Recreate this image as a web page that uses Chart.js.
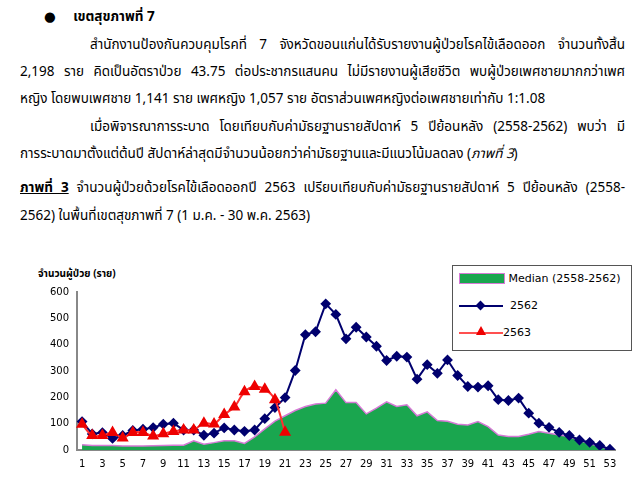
<!DOCTYPE html>
<html><head><meta charset="utf-8">
<script src="https://cdn.jsdelivr.net/npm/chart.js@4"></script>
<style>
body{margin:0;width:640px;height:480px;background:#fff;position:relative;overflow:hidden;font-family:"Noto Sans Thai","Tahoma","DejaVu Sans",sans-serif;color:#000}
.l{position:absolute;font-size:13.5px;white-space:nowrap;line-height:18px}
.j{text-align:justify;text-align-last:justify;white-space:normal}
#c{position:absolute;left:0;top:255px;width:640px;height:218px}
#leg{position:absolute;left:452px;top:265px;width:178px;height:84px;border:1px solid #555;background:#fff;font-size:11px;font-family:Verdana,"DejaVu Sans",sans-serif}
.li{position:absolute;left:6px;display:flex;align-items:center}
</style></head><body>
<div class="l" style="left:44px;top:8px;font-weight:bold">●&nbsp;&nbsp;&nbsp;&nbsp;&nbsp;เขตสุขภาพที่ 7</div>
<div class="l j" style="left:90px;top:36px;width:535px">สำนักงานป้องกันควบคุมโรคที่ 7  จังหวัดขอนแก่นได้รับรายงานผู้ป่วยโรคไข้เลือดออก จำนวนทั้งสิ้น</div>
<div class="l j" style="left:20px;top:63px;width:605px">2,198 ราย คิดเป็นอัตราป่วย 43.75 ต่อประชากรแสนคน ไม่มีรายงานผู้เสียชีวิต พบผู้ป่วยเพศชายมากกว่าเพศ</div>
<div class="l" style="left:20px;top:90px">หญิง โดยพบเพศชาย 1,141 ราย เพศหญิง 1,057 ราย อัตราส่วนเพศหญิงต่อเพศชายเท่ากับ 1:1.08</div>
<div class="l j" style="left:90px;top:118px;width:535px">เมื่อพิจารณาการระบาด โดยเทียบกับค่ามัธยฐานรายสัปดาห์ 5 ปีย้อนหลัง (2558-2562) พบว่า มี</div>
<div class="l" style="left:20px;top:145px">การระบาดมาตั้งแต่ต้นปี สัปดาห์ล่าสุดมีจำนวนน้อยกว่าค่ามัธยฐานและมีแนวโน้มลดลง (<i>ภาพที่ 3</i>)</div>
<div class="l j" style="left:20px;top:179px;width:605px"><b><u>ภาพที่ 3</u></b> จำนวนผู้ป่วยด้วยโรคไข้เลือดออกปี 2563 เปรียบเทียบกับค่ามัธยฐานรายสัปดาห์ 5 ปีย้อนหลัง (2558-</div>
<div class="l" style="left:20px;top:207px">2562) ในพื้นที่เขตสุขภาพที่ 7 (1 ม.ค. - 30 พ.ค. 2563)</div>
<div class="l" style="left:38px;top:265px;font-size:10px;font-weight:bold">จำนวนผู้ป่วย (ราย)</div>
<canvas id="c" width="640" height="218"></canvas>
<div id="leg">
 <div class="li" style="top:6px"><span style="display:inline-block;width:44px;height:9px;background:#1aa64f;border:1px solid #d67ad6"></span>&nbsp;Median (2558-2562)</div>
 <div class="li" style="top:33px"><span style="position:relative;display:inline-block;width:44px;height:2px;background:#00006e"><span style="position:absolute;left:18px;top:-3px;width:7px;height:7px;background:#00006e;transform:rotate(45deg)"></span></span>&nbsp;&nbsp;2562</div>
 <div class="li" style="top:60px"><span style="position:relative;display:inline-block;width:44px;height:2px;background:#ff5050"><span style="position:absolute;left:17px;top:-6px;width:0;height:0;border-left:5px solid transparent;border-right:5px solid transparent;border-bottom:9px solid #e00"></span></span>2563</div>
</div>
<script>
const weeks = Array.from({length:53},(_,i)=>String(i+1));
const median = [20,17,17,17,15,15,15,16,17,18,18,35,22,28,35,35,25,50,80,110,130,150,165,175,178,229,180,180,137,159,183,165,172,130,145,112,109,98,95,108,89,57,51,51,60,70,64,57,51,36,25,13,3];
const y2562 = [108,61,66,44,55,74,79,85,98,102,76,76,56,64,84,76,71,76,119,161,199,302,438,449,555,515,422,466,429,394,340,356,353,269,324,291,342,283,241,239,244,191,188,197,140,102,86,67,55,38,29,17,3];
const y2563 = [98,55,55,66,46,66,66,53,62,70,76,76,102,99,135,163,221,241,231,191,67];
const yTicks = [0,100,200,300,400,500,600];
new Chart(document.getElementById('c'),{
 data:{labels:weeks,datasets:[
  {type:'line',label:'2563',data:y2563,borderColor:'#ff3030',borderWidth:2,pointStyle:'triangle',pointRadius:5,pointBackgroundColor:'#ee0000',pointBorderColor:'#ee0000',tension:0.3,order:1},
  {type:'line',label:'2562',data:y2562,borderColor:'#00006e',borderWidth:2,pointStyle:'rectRot',pointRadius:4,pointBackgroundColor:'#00006e',pointBorderColor:'#00006e',tension:0,order:2},
  {type:'line',label:'Median (2558-2562)',data:median,fill:'origin',backgroundColor:'#1aa64f',borderColor:'#d67ad6',borderWidth:1.5,pointRadius:0,tension:0,order:3}
 ]},
 options:{responsive:false,animation:false,
  layout:{padding:{left:0,right:25,top:37,bottom:0}},
  plugins:{legend:{display:false},tooltip:{enabled:false}},
  scales:{
   x:{offset:true,grid:{display:false,drawTicks:true,tickLength:5,color:'#444'},border:{color:'#888',width:2},
      ticks:{autoSkip:false,maxRotation:0,color:'#000',font:{size:10,family:'Verdana, DejaVu Sans'},callback:(v,i)=> i%2===0?weeks[i]:''}},
   y:{min:0,max:600,afterFit:s=>{s.width=77},afterBuildTicks:s=>{s.ticks=yTicks.map(v=>({value:v}))},
      grid:{display:false,tickLength:5},border:{color:'#888',width:2},
      ticks:{color:'#000',font:{size:10,family:'Verdana, DejaVu Sans'}}}
  }}
});
</script>
</body></html>
